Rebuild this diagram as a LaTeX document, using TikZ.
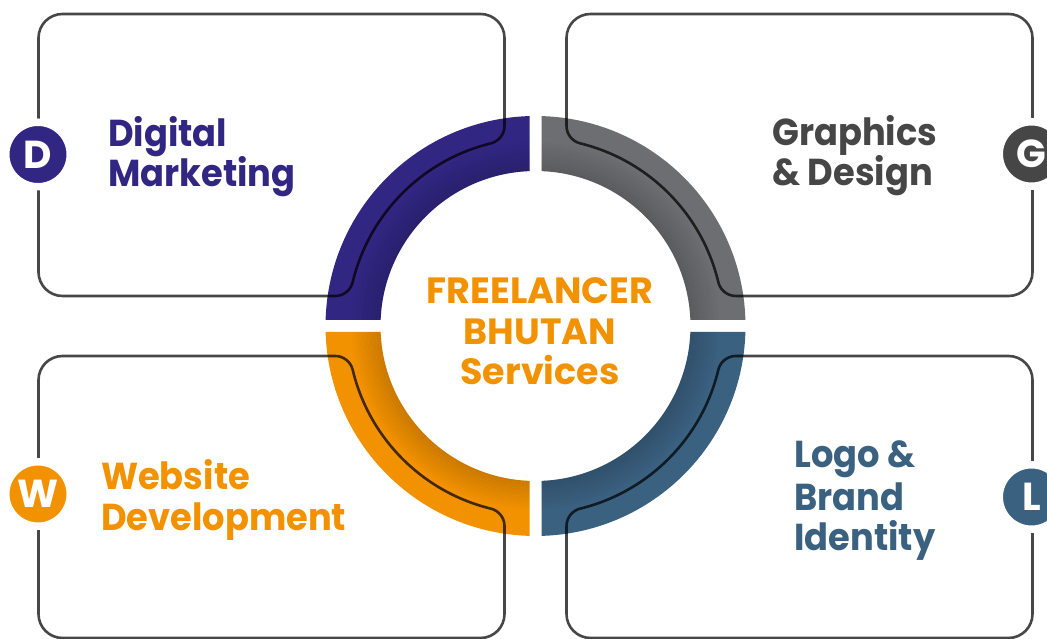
\documentclass[tikz,border=0pt]{standalone}
\usepackage{fontspec}
\newfontfamily\pop{Poppins}
\newfontfamily\popn{Poppins}[FakeStretch=0.94]
\definecolor{cpurple}{HTML}{312783}
\definecolor{cgrey}{HTML}{6D6E71}
\definecolor{cblue}{HTML}{3B6181}
\definecolor{corange}{HTML}{F39200}
\definecolor{cdark}{HTML}{464646}
\newcommand\fbbox{\draw[boxline] (31,200.09) -- (31,288) arc[start angle=180,end angle=90,radius=24] -- (473,312) arc[start angle=90,end angle=0,radius=24] -- (497,54) arc[start angle=0,end angle=-90,radius=24] -- (200.33,30) arc[start angle=-90,end angle=-166.53,radius=18] arc[start angle=13.47,end angle=76.24,radius=188] arc[start angle=-103.76,end angle=-180,radius=18] -- cycle;}
\newcommand\fbseg[1]{%
  \fill[#1] (1.637:210) arc[start angle=1.637,end angle=88.363,radius=210] -- (87.782:155) arc[start angle=87.782,end angle=2.218,radius=155] -- cycle;
  \begin{scope}
    \clip (1.637:210) arc[start angle=1.637,end angle=88.363,radius=210] -- (87.782:155) arc[start angle=87.782,end angle=2.218,radius=155] -- cycle;
    \foreach \i in {0,...,11}{%
      \pgfmathsetmacro\op{0.15*(1-\i/12)}
      \draw[black, opacity=\op, line width=2.6pt] (0,0) circle[radius=155+\i*2.5];
    }
  \end{scope}}
\begin{document}
\begin{tikzpicture}[x=1pt,y=1pt,
  boxline/.style={draw=black, draw opacity=0.72, line width=2.6pt},
  lbl/.style={anchor=base west, inner sep=0pt, font=\popn\bfseries\fontsize{37.5}{40}\selectfont},
  ctr/.style={anchor=base, inner sep=0pt, text=corange, font=\pop\bfseries\fontsize{36.5}{40}\selectfont},
  letter/.style={circle, minimum size=64.5pt, inner sep=0pt, draw=white, line width=7.5pt, text=white, font=\pop\bfseries\fontsize{39}{40}\selectfont}]
\useasboundingbox (0,0) rectangle (1047,639);
\fill[white] (0,0) rectangle (1047,639);
% ring segments
\begin{scope}[shift={(535.5,313)}]
  \fbseg{cgrey}
  \begin{scope}[xscale=-1] \fbseg{cpurple} \end{scope}
  \begin{scope}[yscale=-1] \fbseg{cblue} \end{scope}
  \begin{scope}[xscale=-1,yscale=-1] \fbseg{corange} \end{scope}
\end{scope}
% boxes
\begin{scope}[shift={(535.5,313)}]
  \fbbox
  \begin{scope}[xscale=-1] \fbbox \end{scope}
  \begin{scope}[yscale=-1] \fbbox \end{scope}
  \begin{scope}[xscale=-1,yscale=-1] \fbbox \end{scope}
\end{scope}
% letter circles
\node[letter, fill=cpurple] (cD) at (38,484.5) {D};
\node[letter, fill=cdark] (cG) at (1031.5,485) {G};
\node[letter, fill=corange] (cW) at (38,145) {W};
\node[letter, fill=cblue] (cL) at (1031.5,142) {L};
% centre text
\node[ctr] (t1) at (540,335) {FREELANCER};
\node[ctr] (t2) at (540,294) {BHUTAN};
\node[ctr] (t3) at (540,254) {Services};
% labels
\node[lbl, text=cpurple] (d1) at (108,492) {Digital};
\node[lbl, text=cpurple] (d2) at (108,452) {Marketing};
\node[lbl, text=cdark] (g1) at (772,493) {Graphics};
\node[lbl, text=cdark] (g2) at (772,453) {\& Design};
\node[lbl, text=corange] (w1) at (101,149) {Website};
\node[lbl, text=corange] (w2) at (101,108.5) {Development};
\node[lbl, text=cblue] (l1) at (794,171) {Logo \&};
\node[lbl, text=cblue] (l2) at (794,128.5) {Brand};
\node[lbl, text=cblue] (l3) at (794,88) {Identity};
\end{tikzpicture}
\end{document}
